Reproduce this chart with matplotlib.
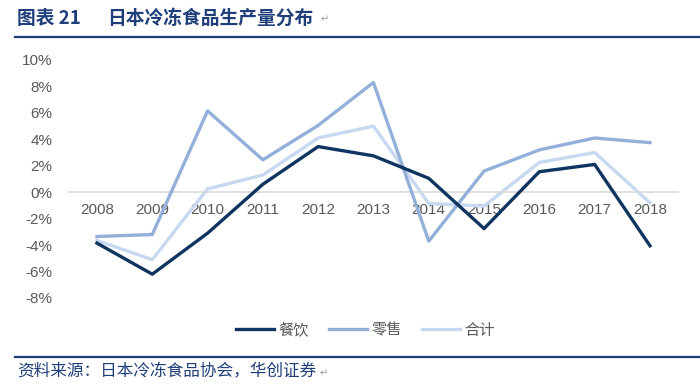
import matplotlib
matplotlib.use("Agg")
import matplotlib.pyplot as plt
from matplotlib.lines import Line2D

plt.rcParams['font.family'] = ['Liberation Sans', 'Noto Sans CJK SC', 'DejaVu Sans']

years = ['2008', '2009', '2010', '2011', '2012', '2013', '2014', '2015', '2016', '2017', '2018']
catering = [-3.85, -6.2, -3.1, 0.6, 3.45, 2.75, 1.05, -2.75, 1.55, 2.1, -4.05]
retail = [-3.35, -3.2, 6.15, 2.45, 5.05, 8.3, -3.7, 1.6, 3.2, 4.1, 3.75]
total = [-3.65, -5.1, 0.25, 1.3, 4.1, 5.0, -0.85, -1.05, 2.25, 3.0, -0.8]
series_names = ['餐饮', '零售', '合计']
colors = ['#0E3460', '#92B0D9', '#C6D9F1']
yticks = [-8, -6, -4, -2, 0, 2, 4, 6, 8, 10]

fig = plt.figure(figsize=(7.0, 3.87), dpi=100)
ax = fig.add_axes([0.099, 0.230, 0.869, 0.615])

x = list(range(len(years)))
lw = 2.4
ax.plot(x, retail, color=colors[1], lw=lw, zorder=3)
ax.plot(x, total, color=colors[2], lw=lw, zorder=2)
ax.plot(x, catering, color=colors[0], lw=lw, zorder=4)

ax.set_xlim(-0.5, 10.5)
ax.set_ylim(-8, 10)
ax.set_yticks(yticks)
ax.set_yticklabels([f'{v}%' for v in yticks])
ax.set_xticks(x)
ax.set_xticklabels(years)
for s in ['top', 'right', 'left']:
    ax.spines[s].set_visible(False)
ax.spines['bottom'].set_position(('data', 0))
ax.spines['bottom'].set_color('#D9D9D9')
ax.spines['bottom'].set_linewidth(1.2)
ax.tick_params(axis='both', length=0, labelsize=11, labelcolor='#595959')
ax.tick_params(axis='x', pad=8)
ax.tick_params(axis='y', pad=12)

handles = [Line2D([0], [0], color=c, lw=lw) for c in colors]
fig.legend(handles, series_names, loc='center', bbox_to_anchor=(0.522, 0.147), ncol=3,
           frameon=False, fontsize=11, handlelength=2.5, handletextpad=0.3,
           columnspacing=1.3, labelcolor='#595959')

blue = '#1F3F7A'
fig.text(0.024, 0.953, '图表 21', fontsize=13.5, fontweight='bold', color=blue, va='center',
         family=['Noto Sans CJK SC', 'DejaVu Sans'])
fig.text(0.153, 0.953, '日本冷冻食品生产量分布', fontsize=13.5, fontweight='bold', color=blue,
         va='center', family=['Noto Sans CJK SC', 'DejaVu Sans'])
fig.text(0.458, 0.950, '↵', fontsize=7, color='#999999', va='center', family=['DejaVu Sans'])
fig.add_artist(Line2D([0.021, 1.0], [0.904, 0.904], color=blue, lw=1.6, transform=fig.transFigure))
fig.add_artist(Line2D([0.021, 1.0], [0.077, 0.077], color=blue, lw=1.6, transform=fig.transFigure))
fig.text(0.024, 0.038, '资料来源：日本冷冻食品协会，华创证券', fontsize=12, color=blue, va='center',
         family=['Noto Sans CJK SC', 'DejaVu Sans'])
fig.text(0.457, 0.036, '↵', fontsize=7, color='#999999', va='center', family=['DejaVu Sans'])

fig.savefig('out.png', dpi=100, facecolor='white')
